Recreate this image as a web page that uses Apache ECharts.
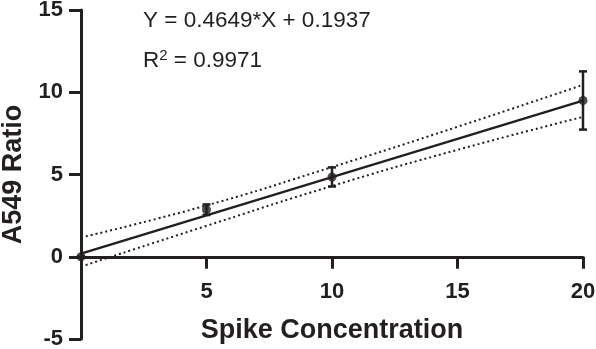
<!DOCTYPE html>
<html>
<head>
<meta charset="utf-8">
<script src="https://cdn.jsdelivr.net/npm/echarts@6/dist/echarts.min.js"></script>
<style>
  html, body { margin: 0; padding: 0; background: #fff; }
  #chart { width: 596px; height: 349px; }
</style>
</head>
<body>
<div id="chart"></div>
<script>
// measured points (mean +/- error)
const concentrations = [0, 5, 10, 20];
const ratios = [0, 2.86, 4.85, 9.5];
const errors = [0, 0.32, 0.58, 1.77];

// fitted line and its confidence band
const fitX = [0, 20];
const fitY = [0.19, 9.49];
const bandX = [0, 5, 10, 15, 20];
const bandUpper = [1.17, 3.12, 5.45, 7.9, 10.45];
const bandLower = [-0.6, 1.88, 4.3, 6.5, 8.5];

const xTicks = [0, 5, 10, 15, 20];
const yTicks = [-5, 0, 5, 10, 15];

const ink = '#231f20';
const font = 'Liberation Sans, Arial, sans-serif';

const gridTop = 10;
const gridBottom = 10;
const plotH = 349 - gridTop - gridBottom;
// x axis sits on y = 0, lifted up from the grid bottom
const xOffset = -plotH * (0 - yTicks[0]) / (yTicks[yTicks.length - 1] - yTicks[0]);

const chart = echarts.init(document.getElementById('chart'));

const zip = (xs, ys) => xs.map((x, i) => [x, ys[i]]);

chart.setOption({
  animation: false,
  backgroundColor: '#fff',
  grid: { left: 81, right: 13, top: gridTop, bottom: gridBottom, containLabel: false, outerBoundsMode: 'none' },
  xAxis: {
    type: 'value',
    min: xTicks[0],
    max: xTicks[xTicks.length - 1],
    interval: 5,
    offset: xOffset,
    name: 'Spike Concentration',
    nameLocation: 'middle',
    nameGap: 60,
    nameTextStyle: { color: ink, fontSize: 27, fontWeight: 'bold', fontFamily: font },
    axisLine: { onZero: false, lineStyle: { color: ink, width: 3 } },
    axisTick: { length: 12, lineStyle: { color: ink, width: 3 } },
    axisLabel: {
      color: ink, fontSize: 22, fontWeight: 'bold', fontFamily: font, margin: 24,
      showMinLabel: false
    },
    splitLine: { show: false }
  },
  yAxis: {
    type: 'value',
    min: yTicks[0],
    max: yTicks[yTicks.length - 1],
    interval: 5,
    name: 'A549 Ratio',
    nameLocation: 'middle',
    nameGap: 54,
    nameTextStyle: { color: ink, fontSize: 27, fontWeight: 'bold', fontFamily: font },
    axisLine: { lineStyle: { color: ink, width: 3 } },
    axisTick: { length: 12, lineStyle: { color: ink, width: 3 } },
    axisLabel: { color: ink, fontSize: 22, fontWeight: 'bold', fontFamily: font, margin: 18 },
    splitLine: { show: false }
  },
  graphic: [
    {
      type: 'text', left: 143, top: 9,
      style: { text: 'Y = 0.4649*X + 0.1937', fill: ink, fontSize: 22.5, fontFamily: font }
    },
    {
      type: 'text', left: 143, top: 48,
      style: {
        text: '{a|R}{s|2}{a| = 0.9971}',
        fill: ink, fontFamily: font,
        rich: {
          a: { fontSize: 22.5, fontFamily: font, fill: ink, verticalAlign: 'bottom' },
          s: { fontSize: 15, fontFamily: font, fill: ink, verticalAlign: 'bottom', padding: [0, 0, 9, 0] }
        }
      }
    }
  ],
  series: [
    {
      type: 'line',
      data: zip(bandX, bandUpper),
      symbol: 'none',
      smooth: true,
      lineStyle: { color: ink, width: 2, type: [2, 3] },
      z: 2
    },
    {
      type: 'line',
      data: zip(bandX, bandLower),
      symbol: 'none',
      smooth: true,
      lineStyle: { color: ink, width: 2, type: [2, 3] },
      z: 2
    },
    {
      type: 'line',
      data: zip(fitX, fitY),
      symbol: 'none',
      lineStyle: { color: ink, width: 2.5 },
      z: 3
    },
    {
      type: 'custom',
      data: concentrations.map((x, i) => [x, ratios[i] - errors[i], ratios[i] + errors[i]]),
      renderItem: function (params, api) {
        const lo = api.coord([api.value(0), api.value(1)]);
        const hi = api.coord([api.value(0), api.value(2)]);
        const half = 4;
        const style = { stroke: ink, lineWidth: 2.5 };
        return {
          type: 'group',
          children: [
            { type: 'line', shape: { x1: lo[0], y1: lo[1], x2: hi[0], y2: hi[1] }, style },
            { type: 'line', shape: { x1: lo[0] - half, y1: lo[1], x2: lo[0] + half, y2: lo[1] }, style },
            { type: 'line', shape: { x1: hi[0] - half, y1: hi[1], x2: hi[0] + half, y2: hi[1] }, style }
          ]
        };
      },
      z: 4
    },
    {
      type: 'scatter',
      data: zip(concentrations, ratios),
      symbol: 'circle',
      symbolSize: 9,
      itemStyle: { color: ink },
      z: 5
    }
  ]
});
</script>
</body>
</html>
